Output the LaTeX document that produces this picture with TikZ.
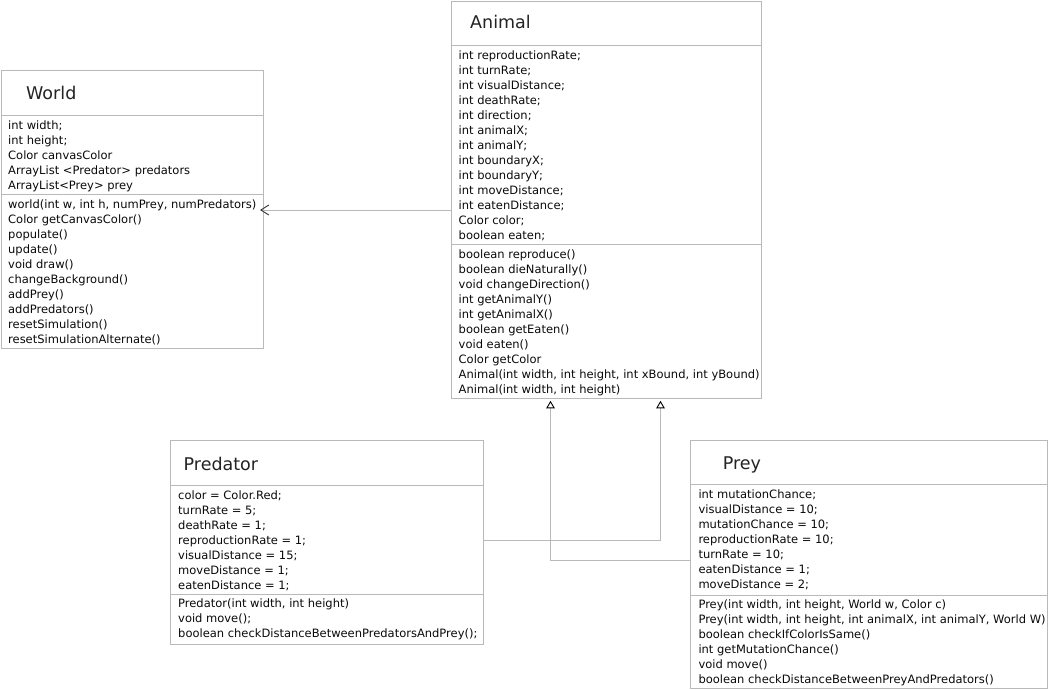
\documentclass[tikz,border=0pt]{standalone}
\usepackage{fontspec}
\setmainfont{DejaVu Sans}
\usetikzlibrary{arrows.meta}
\definecolor{umlline}{RGB}{185,185,185}
\definecolor{umltext}{RGB}{10,10,10}
\definecolor{umltitle}{RGB}{35,35,35}
\begin{document}
\begin{tikzpicture}[x=1pt,y=-1pt,
  umlbox/.style={draw=umlline, line width=1pt, fill=white, rectangle, inner sep=0pt, anchor=north west},
  umlsep/.style={draw=umlline, line width=1pt},
  txt/.style={inner sep=0pt, anchor=base west, text=umltext, font=\fontsize{11.5}{15}\selectfont},
  ttl/.style={inner sep=0pt, anchor=base west, text=umltitle, font=\fontsize{17.5}{20}\selectfont},
  assoc/.style={draw=umlline, line width=1pt, -{Straight Barb[length=8pt,width=10pt,line width=0.9pt,color=black!80]}},
  gen/.style={draw=umlline, line width=1pt, -{Triangle[open,length=7.5pt,width=8.5pt,line width=0.9pt,color=black,fill=white]}}
]
\useasboundingbox (0,0) rectangle (1048,689);
\fill[white] (0,0) rectangle (1048,689);

% ---------- World ----------
\node[umlbox, minimum width=262.5pt, minimum height=278pt] (world) at (0.5,70.3) {};
\draw[umlsep] ([yshift=-45pt]world.north west) -- ([yshift=-45pt]world.north east);
\draw[umlsep] ([yshift=-124.4pt]world.north west) -- ([yshift=-124.4pt]world.north east);
\node[ttl] (worldtitle) at (26,99.3) {World};
\foreach \t [count=\i] in {int width;, int height;, Color canvasColor, ArrayList <Predator> predators, ArrayList<Prey> prey}
  \node[txt] (wa\i) at (8,{129+15*(\i-1)}) {\t};
\foreach \t [count=\i] in {{world(int w, int h, numPrey, numPredators)}, Color getCanvasColor(), populate(), update(), void draw(), changeBackground(), addPrey(), addPredators(), resetSimulation(), resetSimulationAlternate()}
  \node[txt] (wm\i) at (8,{208.3+15*(\i-1)}) {\t};

% ---------- Animal ----------
\node[umlbox, minimum width=310pt, minimum height=397.8pt] (animal) at (450.5,0.5) {};
\draw[umlsep] ([yshift=-44.8pt]animal.north west) -- ([yshift=-44.8pt]animal.north east);
\draw[umlsep] ([yshift=-243.8pt]animal.north west) -- ([yshift=-243.8pt]animal.north east);
\node[ttl] (animaltitle) at (470,28.5) {Animal};
\foreach \t [count=\i] in {int reproductionRate;, int turnRate;, int visualDistance;, int deathRate;, int direction;, int animalX;, int animalY;, int boundaryX;, int boundaryY;, int moveDistance;, int eatenDistance;, Color color;, boolean eaten;}
  \node[txt] (aa\i) at (458.5,{59+15*(\i-1)}) {\t};
\foreach \t [count=\i] in {boolean reproduce(), boolean dieNaturally(), void changeDirection(), int getAnimalY(), int getAnimalX(), boolean getEaten(), void eaten(), Color getColor, {Animal(int width, int height, int xBound, int yBound)}, {Animal(int width, int height)}}
  \node[txt] (am\i) at (458.5,{258+15*(\i-1)}) {\t};

% ---------- Predator ----------
\node[umlbox, minimum width=312.4pt, minimum height=204pt] (pred) at (170.3,440.3) {};
\draw[umlsep] ([yshift=-45pt]pred.north west) -- ([yshift=-45pt]pred.north east);
\draw[umlsep] ([yshift=-153.7pt]pred.north west) -- ([yshift=-153.7pt]pred.north east);
\node[ttl] (predtitle) at (183.5,470) {Predator};
\foreach \t [count=\i] in {color = Color.Red;, turnRate = 5;, deathRate = 1;, reproductionRate = 1;, visualDistance = 15;, moveDistance = 1;, eatenDistance = 1;}
  \node[txt] (pa\i) at (178,{499+15*(\i-1)}) {\t};
\foreach \t [count=\i] in {{Predator(int width, int height)}, void move();, boolean checkDistanceBetweenPredatorsAndPrey();}
  \node[txt] (pm\i) at (178,{607.7+15*(\i-1)}) {\t};

% ---------- Prey ----------
\node[umlbox, minimum width=356.7pt, minimum height=247.4pt] (prey) at (690.3,440.3) {};
\draw[umlsep] ([yshift=-44pt]prey.north west) -- ([yshift=-44pt]prey.north east);
\draw[umlsep] ([yshift=-154.7pt]prey.north west) -- ([yshift=-154.7pt]prey.north east);
\node[ttl] (preytitle) at (722.7,469.5) {Prey};
\foreach \t [count=\i] in {int mutationChance;, visualDistance = 10;, mutationChance = 10;, reproductionRate = 10;, turnRate = 10;, eatenDistance = 1;, moveDistance = 2;}
  \node[txt] (ya\i) at (698.3,{498.5+15*(\i-1)}) {\t};
\foreach \t [count=\i] in {{Prey(int width, int height, World w, Color c)}, {Prey(int width, int height, int animalX, int animalY, World W)}, boolean checkIfColorIsSame(), int getMutationChance(), void move(), boolean checkDistanceBetweenPreyAndPredators()}
  \node[txt] (ym\i) at (698.3,{608.7+15*(\i-1)}) {\t};

% ---------- Connectors ----------
\coordinate (worldtip) at (260,210);
\draw[assoc] (animal.west |- worldtip) -- (worldtip);

\coordinate (preyturn) at (550.5,560);
\coordinate (preytip) at (550.5,400.8);
\draw[gen] (prey.west |- preyturn) -- (preyturn) -- (preytip);

\coordinate (predturn) at (660.5,540);
\coordinate (predtip) at (660.5,400.8);
\draw[gen] (pred.east |- predturn) -- (predturn) -- (predtip);
\end{tikzpicture}
\end{document}
